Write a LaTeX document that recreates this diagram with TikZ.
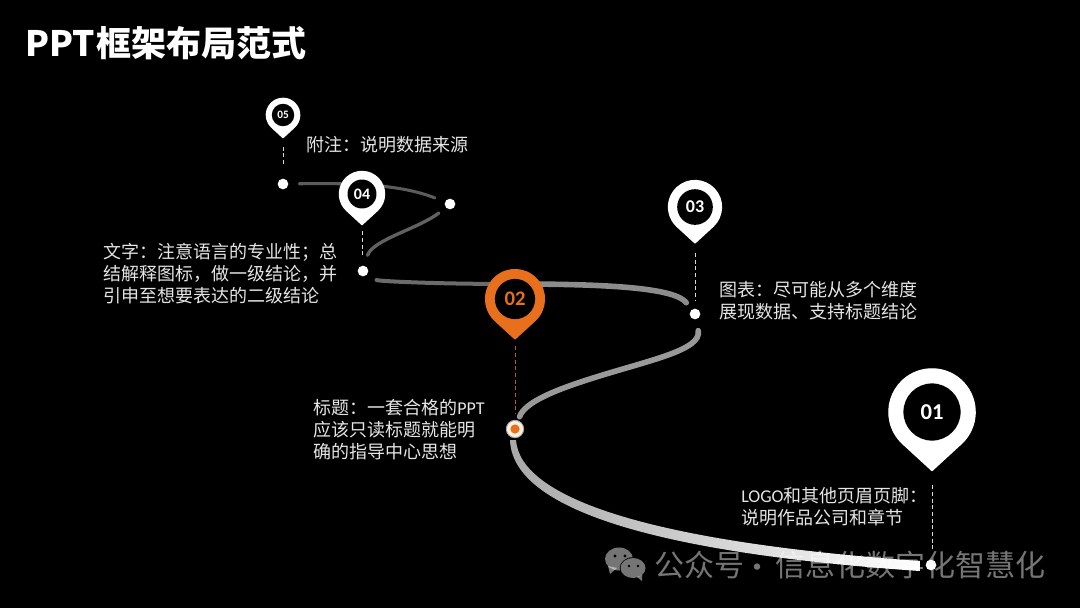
\documentclass[tikz,border=0pt]{standalone}
\usepackage{fontspec}
\setmainfont{Liberation Sans}
\newfontfamily\cjk{Noto Sans CJK SC}
\newfontfamily\numfont{Carlito}
\usetikzlibrary{calc}
\definecolor{pinorange}{RGB}{232,112,28}
\tikzset{
  desc/.style={anchor=west,inner sep=0pt,text=white!90!black,align=left,font={\cjk\fontsize{13.5}{16.5}\selectfont}},
  dotn/.style={circle,fill=white,inner sep=0pt,minimum size=8pt},
  leader/.style={densely dashed,white!85!black,line width=0.5pt,shorten >=6pt},
  track/.style={line cap=round},
  wmtext/.style={anchor=center,inner sep=0pt,text=white,text opacity=0.46,font={\cjk\fontsize{22.5}{24}\selectfont}},
}
% #1 name, #2 x, #3 y, #4 R px, #5 inner r ratio, #6 colour, #7 text, #8 font pt
\newcommand{\mappin}[8]{%
  \begin{scope}[shift={(#2,#3)},x=#4*0.75pt,y=#4*0.75pt]
    \filldraw[#6,line join=round,line width=1pt] (-47:0.98) arc[start angle=-47,end angle=227,radius=0.98] -- (0,-1.33) -- cycle;
    \fill[black] (0,0) circle[radius=#5];
    \coordinate (#1tip) at (0,-1.36);
    \node[inner sep=0pt,text=#6,font={\numfont\bfseries\fontsize{#8}{#8}\selectfont}] (#1) at (0,0) {#7};
  \end{scope}}
\begin{document}
\begin{tikzpicture}[x=0.75pt,y=-0.75pt]
\useasboundingbox (0,0) rectangle (1080,608);
\fill[black] (0,0) rectangle (1080,608);
% dots
\node[dotn] (d5) at (283,184) {};
\node[dotn] (d45) at (450,204) {};
\node[dotn] (d4) at (363,271) {};
\node[dotn] (d3) at (695,314) {};
\node[dotn] (d1) at (931,565) {};
% tracks
\draw[track,white!36!black,line width=2.3pt,shorten <=8pt,shorten >=8pt] (d5) .. controls (350,183) and (400,184) .. (d45);
\draw[track,white!38!black,line width=2.5pt,shorten <=6.5pt,shorten >=8pt] (d45) .. controls (420,228) and (372,240) .. (d4);
\draw[track,white!42!black,line width=3pt,shorten <=8pt] (d4) .. controls (378,281) and (430,284) .. (515,284);
\draw[track,white!55!black,line width=4.2pt,shorten >=6.5pt] (515,284) .. controls (610,284) and (675,288) .. (d3);
\node[circle,inner sep=0pt,minimum size=13pt,fill=white!88!orange,draw=gray!70,line width=0.7pt] (d2) at (515,429) {};
\draw[track,white!60!black,line width=4.2pt,shorten <=8.5pt,shorten >=3pt] (d3) .. controls (702,350) and (650,360) .. (593,378) .. controls (555,390) and (525,402) .. (d2);
\shade[left color=white!66!black,right color=white,shading angle=90]
  (510,440) .. controls (512,505) and (640,552) .. (920,571)
  -- (920,561) .. controls (650,542) and (520,498) .. (516,440) -- cycle;
\fill[pinorange] (d2.center) circle[radius=4.6];
% pins
\mappin{p5}{283}{115}{17}{0.66}{white}{05}{8.5}
\mappin{p4}{362}{194}{23}{0.63}{white}{04}{12}
\mappin{p3}{695}{207}{27}{0.66}{white}{03}{13.5}
\mappin{p2}{515}{299}{30}{0.67}{pinorange}{02}{15.5}
\mappin{p1}{932}{412}{44}{0.65}{white}{01}{17}
% leaders
\draw[leader,shorten <=6.5pt,shorten >=15pt] (p5tip) -- (p5tip |- d5);
\draw[leader,shorten <=4.5pt] (p4tip) -- (p4tip |- d4.north);
\draw[leader,shorten <=7pt] (p3tip) -- (p3tip |- d3.north);
\draw[leader,pinorange!80!black,shorten <=5pt,shorten >=5pt] (p2tip) -- (p2tip |- d2.north);
\draw[leader,shorten <=10pt] (p1tip) -- (p1tip |- d1.north);
% title
\node[anchor=west,inner sep=0pt,text=white,font={\cjk\bfseries\fontsize{26.25}{30}\selectfont}] (title) at (25,43) {PPT\hspace{1pt}框架布局范式};
% descriptions
\node[desc] (t5) at (306,145) {附注：说明数据来源};
\node[desc] (t4) at (103,273.3) {文字：注意语言的专业性；总\\结解释图标，做一级结论，并\\引申至想要表达的二级结论};
\node[desc] (t3) at (719,301) {图表：尽可能从多个维度\\展现数据、支持标题结论};
\node[desc] (t2) at (313,430) {标题：一套合格的{\numfont PPT}\\应该只读标题就能明\\确的指导中心思想};
\node[desc] (t1) at (741,506.8) {{\numfont LOGO}和其他页眉页脚：\\说明作品公司和章节};
% watermark
\fill[white,opacity=0.46] (619,559) ellipse[x radius=14,y radius=11.5];
\fill[white,opacity=0.46] (608,566) -- (610,574) -- (617,568) -- cycle;
\fill[black] (633,568) ellipse[x radius=13.3,y radius=10.8];
\fill[white,opacity=0.46] (633,568) ellipse[x radius=12.5,y radius=10];
\fill[white,opacity=0.46] (637,577) -- (642,581) -- (642,575) -- cycle;
\fill[black] (615,556) circle[radius=1.6] (625,556) circle[radius=1.6] (629,566) circle[radius=1.4] (638,566) circle[radius=1.4];
\node[wmtext] (wm1) at (699,565) {公众号};
\node[wmtext] (wmdot) at (757,571) {·};
\node[wmtext] (wm2) at (910,565) {信息化数字化智慧化};
\end{tikzpicture}
\end{document}
